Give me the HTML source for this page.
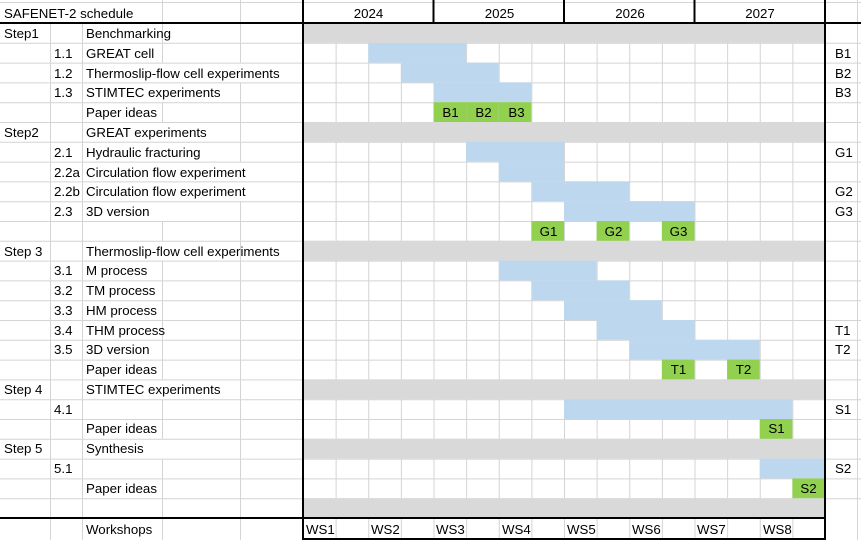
<!DOCTYPE html>
<html><head><meta charset="utf-8"><style>
body{margin:0;background:#fff;}
#w{position:relative;width:861px;height:540px;overflow:hidden;font-family:"Liberation Sans",Arial,sans-serif;font-size:13px;color:#000;}
svg{position:absolute;left:0;top:0;}
.t{position:absolute;white-space:nowrap;line-height:20px;margin-top:1px;font-size:13.3px;}
.c{text-align:center;}
</style></head><body><div id="w">
<svg id="s" width="861" height="540"></svg>
<div style="position:absolute;left:0;top:0;font-family:'Liberation Sans',Arial,sans-serif;font-size:13px;">
<div class="t" style="left:4px;top:3px">SAFENET-2 schedule</div>
<div class="t c" style="left:303px;top:3px;width:131px">2024</div>
<div class="t c" style="left:434px;top:3px;width:131px">2025</div>
<div class="t c" style="left:565px;top:3px;width:130px">2026</div>
<div class="t c" style="left:695px;top:3px;width:130px">2027</div>

<div class="t" style="left:4px;top:23px">Step1</div><div class="t" style="left:86px;top:23px">Benchmarking</div>
<div class="t" style="left:54px;top:43px">1.1</div><div class="t" style="left:86px;top:43px">GREAT cell</div>
<div class="t" style="left:54px;top:63px">1.2</div><div class="t" style="left:86px;top:63px">Thermoslip-flow cell experiments</div>
<div class="t" style="left:54px;top:82px">1.3</div><div class="t" style="left:86px;top:82px">STIMTEC experiments</div>
<div class="t" style="left:86px;top:102px">Paper ideas</div>
<div class="t" style="left:4px;top:122px">Step2</div><div class="t" style="left:86px;top:122px">GREAT experiments</div>
<div class="t" style="left:54px;top:142px">2.1</div><div class="t" style="left:86px;top:142px">Hydraulic fracturing</div>
<div class="t" style="left:54px;top:162px">2.2a</div><div class="t" style="left:86px;top:162px">Circulation flow experiment</div>
<div class="t" style="left:54px;top:181px">2.2b</div><div class="t" style="left:86px;top:181px">Circulation flow experiment</div>
<div class="t" style="left:54px;top:201px">2.3</div><div class="t" style="left:86px;top:201px">3D version</div>
<div class="t" style="left:4px;top:241px">Step 3</div><div class="t" style="left:86px;top:241px">Thermoslip-flow cell experiments</div>
<div class="t" style="left:54px;top:260px">3.1</div><div class="t" style="left:86px;top:260px">M process</div>
<div class="t" style="left:54px;top:280px">3.2</div><div class="t" style="left:86px;top:280px">TM process</div>
<div class="t" style="left:54px;top:300px">3.3</div><div class="t" style="left:86px;top:300px">HM process</div>
<div class="t" style="left:54px;top:320px">3.4</div><div class="t" style="left:86px;top:320px">THM process</div>
<div class="t" style="left:54px;top:339px">3.5</div><div class="t" style="left:86px;top:339px">3D version</div>
<div class="t" style="left:86px;top:359px">Paper ideas</div>
<div class="t" style="left:4px;top:379px">Step 4</div><div class="t" style="left:86px;top:379px">STIMTEC experiments</div>
<div class="t" style="left:54px;top:399px">4.1</div>
<div class="t" style="left:86px;top:418px">Paper ideas</div>
<div class="t" style="left:4px;top:438px">Step 5</div><div class="t" style="left:86px;top:438px">Synthesis</div>
<div class="t" style="left:54px;top:458px">5.1</div>
<div class="t" style="left:86px;top:478px">Paper ideas</div>
<div class="t" style="left:86px;top:519px">Workshops</div>

<div class="t c" style="left:434px;top:102px;width:33px">B1</div>
<div class="t c" style="left:467px;top:102px;width:33px">B2</div>
<div class="t c" style="left:500px;top:102px;width:33px">B3</div>
<div class="t c" style="left:532px;top:221px;width:33px">G1</div>
<div class="t c" style="left:597px;top:221px;width:33px">G2</div>
<div class="t c" style="left:662px;top:221px;width:33px">G3</div>
<div class="t c" style="left:662px;top:359px;width:33px">T1</div>
<div class="t c" style="left:727px;top:359px;width:33px">T2</div>
<div class="t c" style="left:760px;top:418px;width:33px">S1</div>
<div class="t c" style="left:792px;top:478px;width:33px">S2</div>

<div class="t" style="left:835px;top:43px">B1</div>
<div class="t" style="left:835px;top:63px">B2</div>
<div class="t" style="left:835px;top:82px">B3</div>
<div class="t" style="left:835px;top:142px">G1</div>
<div class="t" style="left:835px;top:181px">G2</div>
<div class="t" style="left:835px;top:201px">G3</div>
<div class="t" style="left:835px;top:320px">T1</div>
<div class="t" style="left:835px;top:339px">T2</div>
<div class="t" style="left:835px;top:399px">S1</div>
<div class="t" style="left:835px;top:458px">S2</div>

<div class="t" style="left:306px;top:519px">WS1</div>
<div class="t" style="left:371px;top:519px">WS2</div>
<div class="t" style="left:436px;top:519px">WS3</div>
<div class="t" style="left:502px;top:519px">WS4</div>
<div class="t" style="left:567px;top:519px">WS5</div>
<div class="t" style="left:632px;top:519px">WS6</div>
<div class="t" style="left:697px;top:519px">WS7</div>
<div class="t" style="left:763px;top:519px">WS8</div>
</div>
</div>
<script>
const s=document.getElementById('s');
const NS='http://www.w3.org/2000/svg';
function R(x,y,w,h,f){const e=document.createElementNS(NS,'rect');e.setAttribute('x',x);e.setAttribute('y',y);e.setAttribute('width',w);e.setAttribute('height',h);e.setAttribute('fill',f);s.appendChild(e);}
function L(x1,y1,x2,y2,c,w){const e=document.createElementNS(NS,'line');e.setAttribute('x1',x1);e.setAttribute('y1',y1);e.setAttribute('x2',x2);e.setAttribute('y2',y2);e.setAttribute('stroke',c);e.setAttribute('stroke-width',w);s.appendChild(e);}
const X0=303,QW=(825-303)/16,Y0=23,RH=(518-23)/25;
const qx=q=>X0+q*QW, ry=r=>Y0+r*RH;
const grey=[0,5,11,18,21,24];
const blue={1:[2,5],2:[3,6],3:[4,7],6:[5,8],7:[6,8],8:[7,10],9:[8,12],12:[6,9],13:[7,10],14:[8,11],15:[9,12],16:[10,14],19:[8,15],22:[14,16]};
const green={4:[4,5,6],10:[7,9,11],17:[11,13],20:[14],23:[15]};
const GC='#d4d4d4';
L(0,2.5,861,2.5,GC,1);
for(let r=1;r<25;r++)L(0,ry(r)+.5,861,ry(r)+.5,GC,1);
for(let q=1;q<16;q++)L(qx(q)+.5,23,qx(q)+.5,540,GC,1);
L(857.5,0,857.5,540,GC,1);
L(50.5,23,50.5,540,GC,1);L(82.5,23,82.5,540,GC,1);
const short162=[0,1,4,10,12,13,14,15,16,17,19,20,22,23,24,25];
const no240=[2,7,8];
L(162.5,0,162.5,23,GC,1);L(240.5,0,240.5,23,GC,1);
for(let r=0;r<26;r++){const y1=ry(r),y2=r==25?540:ry(r+1);
 if(short162.includes(r))L(162.5,y1,162.5,y2,GC,1);
 if(!no240.includes(r))L(240.5,y1,240.5,y2,GC,1);}
grey.forEach(r=>R(X0,ry(r),825-X0,RH,'#d9d9d9'));
for(const r in blue){const [a,b]=blue[r];R(qx(a),ry(+r),qx(b)-qx(a),RH,'#bdd7ee');}
for(const r in green){green[r].forEach(q=>R(qx(q),ry(+r),QW,RH,'#92d050'));}
L(0,23,861,23,'#000',2);
L(0,518,825,518,'#000',2);L(303,539,825,539,'#000',2);
L(303,0,303,540,'#000',2);L(825,0,825,540,'#000',2);
[4,8,12].forEach(q=>L(qx(q),0,qx(q),23,'#000',2));
</script>
</body></html>
